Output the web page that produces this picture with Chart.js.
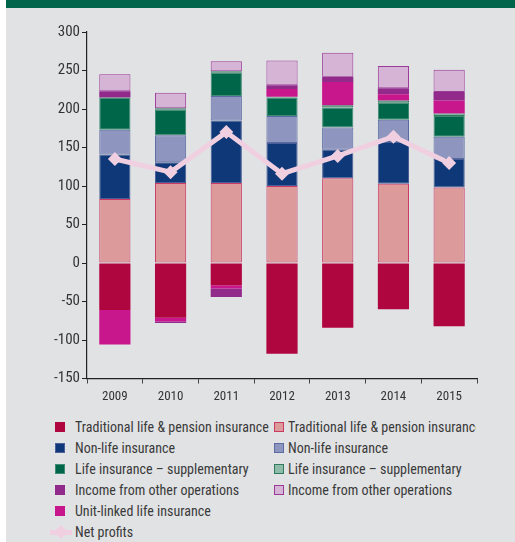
<!DOCTYPE html>
<html>
<head>
<meta charset="utf-8">
<script src="https://cdn.jsdelivr.net/npm/chart.js@4"></script>
<style>
  body { margin: 0; width: 515px; height: 542px; overflow: hidden; background: #fff;
         font-family: "Liberation Sans Narrow", "Roboto Condensed", "DejaVu Sans Condensed", sans-serif; }
  #panel { position: absolute; left: 6px; top: 0; width: 509px; height: 542px; background: #e1e2e4; }
  #band { position: absolute; left: 6px; top: 0; width: 509px; height: 8px; background: #00654a; }
  #wrap { position: absolute; left: 0; top: 8px; width: 515px; height: 400px; }
  #legend { position: absolute; left: 0; top: 417px; width: 476px; height: 125px; overflow: hidden; }
  .item { position: absolute; height: 21px; line-height: 21px; font-size: 14px; color: #3a3a3a; white-space: nowrap; }
  .box { position: absolute; top: 5px; width: 10px; height: 10px; box-sizing: border-box; }
  .ln { position: absolute; top: 8px; width: 22px; height: 5px; background: #f0d0e0; }
  .dm { position: absolute; top: 5px; width: 10px; height: 10px; background: #f0d0e0; transform: rotate(45deg); }
</style>
</head>
<body>
<div id="panel"></div>
<div id="band"></div>
<div id="wrap"><canvas id="myChart"></canvas></div>
<div id="legend"></div>
<script>
// Years along the x-axis
var years = ['2009', '2010', '2011', '2012', '2013', '2014', '2015'];
// Stacked bar parts (NOK million)
var tradDark = [-61, -71, -29, -118, -84, -60, -82];
var tradLight = [83, 104, 104, 100, 110, 103, 98];
var nonLifeDark = [58, 27, 81, 56, 37, 54, 37];
var nonLifeLight = [32, 35, 32, 35, 29, 29, 29];
var suppDark = [42, 33, 30, 24, 26, 22, 27];
var suppLight = [0, 2, 2, 1, 3, 3, 3];
var unitLinked = [-45, -5, -4, 10, 30, 8, 17];
var otherDark = [8, -2, -11, 5, 7, 8, 11];
var otherLight = [22, 20, 13, 32, 31, 29, 29];
// Line
var netProfits = [135, 118, 170, 116, 139, 164, 130];

function bar(label, data, fill, border, bw) {
  return { type: 'bar', label: label, data: data, backgroundColor: fill,
           borderColor: border, borderWidth: bw, borderSkipped: false, stack: 'a' };
}

var datasets = [
  bar('Traditional life & pension insurance', tradDark, '#b0063f', '#b0063f', 0),
  bar('Traditional life & pension insurance', tradLight, '#dc9a9b', '#c93a64', 1),
  bar('Non-life insurance', nonLifeDark, '#0f3878', '#4a5f98', 1),
  bar('Non-life insurance', nonLifeLight, '#8e95bf', '#5a6aa2', 1),
  bar('Life insurance \u2013 supplementary', suppDark, '#00664a', '#3f8a70', 1),
  bar('Life insurance \u2013 supplementary', suppLight, '#8fbca9', '#2e7a5e', 1),
  bar('Unit-linked life insurance', unitLinked, '#c8178c', '#c8178c', 0),
  bar('Income from other operations', otherDark, '#922a8c', '#922a8c', 0),
  bar('Income from other operations', otherLight, '#d5b4d6', '#9c3a98', 1),
  { type: 'line', label: 'Net profits', data: netProfits, stack: 'p', order: -1,
    borderColor: '#f0d0e0', backgroundColor: '#f0d0e0', borderWidth: 5,
    pointStyle: 'rectRot', pointRadius: 7, pointBorderWidth: 0, tension: 0 }
];

var font = "'Liberation Sans Narrow', 'Roboto Condensed', 'DejaVu Sans Condensed', sans-serif";

var ctx = document.getElementById('myChart');
var myChart = new Chart(ctx, {
  data: { labels: years, datasets: datasets },
  options: {
    responsive: true,
    maintainAspectRatio: false,
    animation: false,
    layout: { padding: { left: 0, right: 38, top: 24, bottom: 0 } },
    datasets: { bar: { barPercentage: 0.56, categoryPercentage: 1 } },
    plugins: { legend: { display: false }, tooltip: { enabled: false } },
    scales: {
      x: {
        stacked: true,
        afterFit: function (s) { s.height = 29.5; },
        border: { color: '#222', width: 1.2 },
        grid: { drawOnChartArea: false, tickLength: 5, color: '#444', offset: true },
        ticks: { color: '#333', padding: 5, font: { family: font, size: 13 } }
      },
      y: {
        stacked: true,
        min: -150, max: 300,
        afterFit: function (s) { s.width = 87; },
        border: { color: '#222', width: 1.2 },
        grid: { drawOnChartArea: false, tickLength: 5, color: '#222' },
        ticks: { stepSize: 50, color: '#333', padding: 2, font: { family: font, size: 15 } }
      }
    }
  }
});

// Two-column legend built from the datasets
var legendOrder = [0, 1, 2, 3, 4, 5, 7, 8, 6, 9];
var leg = document.getElementById('legend');
legendOrder.forEach(function (di, k) {
  var ds = datasets[di];
  var row = k < 8 ? Math.floor(k / 2) : k - 4;
  var col = k < 8 ? k % 2 : 0;
  var el = document.createElement('div');
  el.className = 'item';
  el.style.top = (row * 21) + 'px';
  el.style.left = (col === 0 ? 50 : 273) + 'px';
  if (ds.type === 'line') {
    el.innerHTML = '<span class="ln" style="left:0"></span><span class="dm" style="left:6px"></span>';
    var t = document.createElement('span');
    t.style.marginLeft = '25px';
    t.textContent = ds.label;
    el.appendChild(t);
  } else {
    var b = document.createElement('span');
    b.className = 'box';
    b.style.left = col === 0 ? '5px' : '1px';
    b.style.background = ds.backgroundColor;
    if (ds.borderWidth) b.style.border = '1.5px solid ' + ds.borderColor;
    el.appendChild(b);
    var t2 = document.createElement('span');
    t2.style.marginLeft = col === 0 ? '25px' : '15px';
    t2.textContent = ds.label;
    el.appendChild(t2);
  }
  leg.appendChild(el);
});
</script>
</body>
</html>
